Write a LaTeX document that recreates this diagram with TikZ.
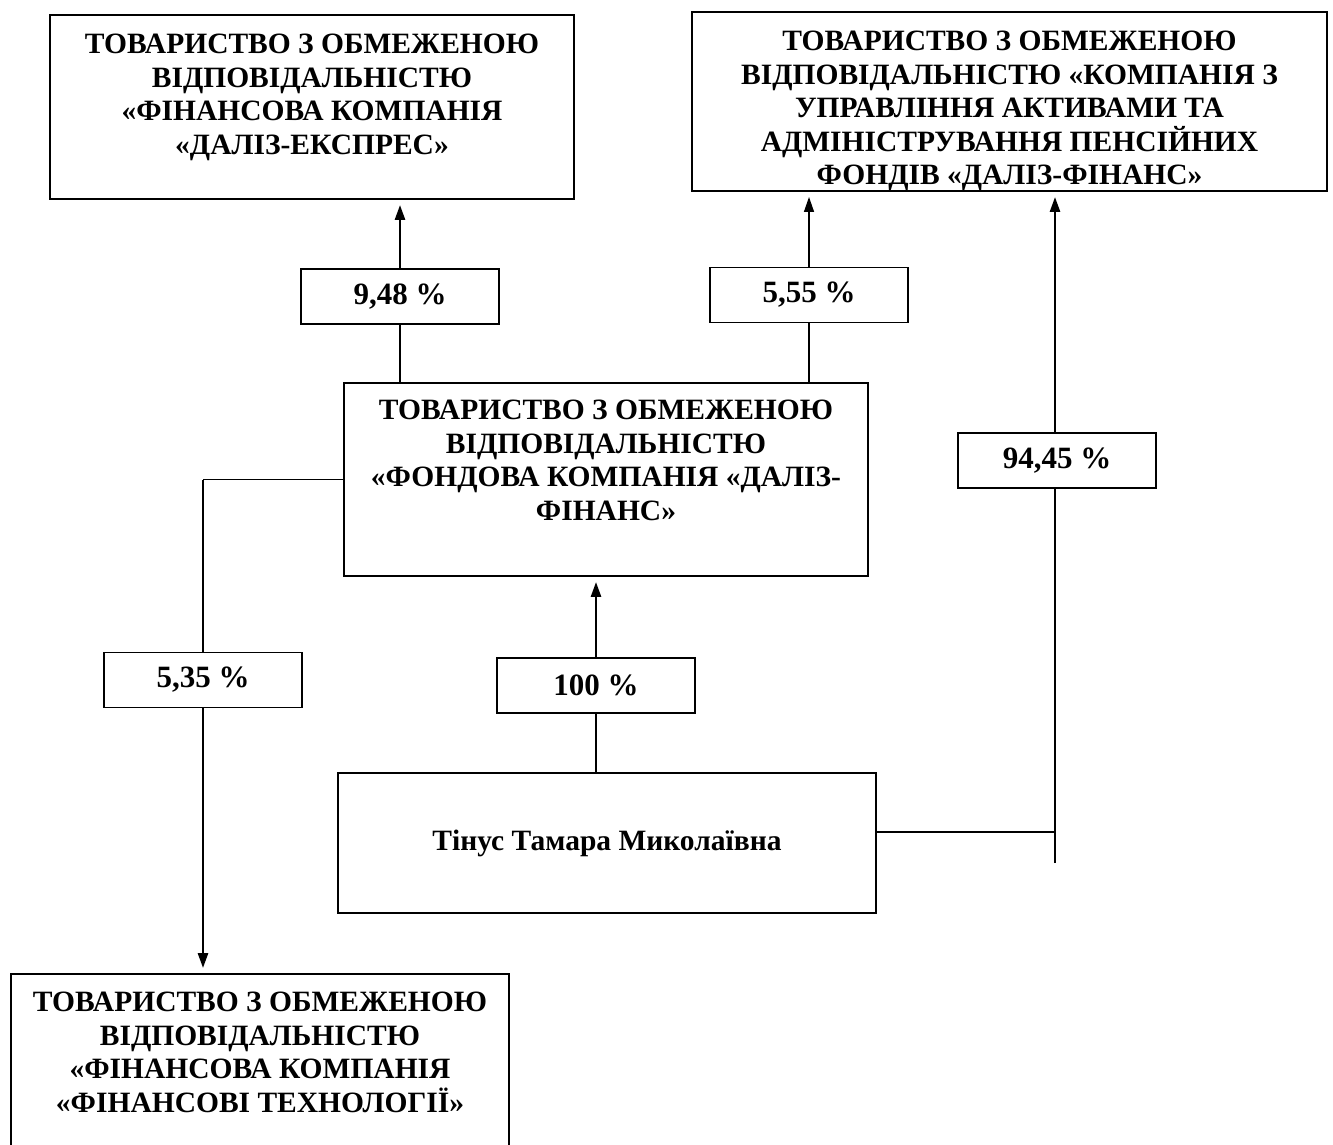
\documentclass[tikz,border=0pt]{standalone}
\usepackage{fontspec}
\setmainfont{Liberation Serif}
\usetikzlibrary{arrows.meta,calc}
\begin{document}
\begin{tikzpicture}[x=1pt,y=-1pt,
  orgbox/.style={draw, line width=1.9pt, inner sep=0pt},
  txt/.style={align=center, inner sep=0pt, anchor=north, font=\bfseries\fontsize{29.5}{33.5}\selectfont},
  pct/.style={draw, fill=white, line width=1.7pt, inner sep=0pt, minimum width=198pt, minimum height=55pt, font=\bfseries\fontsize{31}{34}\selectfont},
  thickln/.style={line width=2.6pt},
  thinln/.style={line width=1.3pt},
  arr/.style={-{Triangle[width=10pt,length=15pt]}, shorten >=5pt}
]
\useasboundingbox (0,0) rectangle (1333,1144);
\clip (0,0) rectangle (1333,1144);
\fill[white] (0,0) rectangle (1333,1144);

% main boxes
\node[orgbox, minimum width=524pt, minimum height=184pt] (A) at (312,107) {};
\node[txt] (At) at (312,34) {ТОВАРИСТВО З ОБМЕЖЕНОЮ\\ВІДПОВІДАЛЬНІСТЮ\\«ФІНАНСОВА КОМПАНІЯ\\«ДАЛІЗ-ЕКСПРЕС»};

\node[orgbox, minimum width=635pt, minimum height=179pt] (B) at (1009.5,101.5) {};
\node[txt] (Bt) at (1009.5,31) {ТОВАРИСТВО З ОБМЕЖЕНОЮ\\ВІДПОВІДАЛЬНІСТЮ «КОМПАНІЯ З\\УПРАВЛІННЯ АКТИВАМИ ТА\\АДМІНІСТРУВАННЯ ПЕНСІЙНИХ\\ФОНДІВ «ДАЛІЗ-ФІНАНС»};

\node[orgbox, minimum width=524pt, minimum height=193pt] (C) at (606,479.5) {};
\node[txt] (Ct) at (606,400) {ТОВАРИСТВО З ОБМЕЖЕНОЮ\\ВІДПОВІДАЛЬНІСТЮ\\«ФОНДОВА КОМПАНІЯ «ДАЛІЗ-\\ФІНАНС»};

\node[orgbox, minimum width=538pt, minimum height=140pt, font=\bfseries\fontsize{29.5}{33.5}\selectfont] (D) at (607,843) {Тінус Тамара Миколаївна};

\node[orgbox, minimum width=498pt, minimum height=190pt] (E) at (260,1069) {};
\node[txt] (Et) at (260,992) {ТОВАРИСТВО З ОБМЕЖЕНОЮ\\ВІДПОВІДАЛЬНІСТЮ\\«ФІНАНСОВА КОМПАНІЯ\\«ФІНАНСОВІ ТЕХНОЛОГІЇ»};

% percentage boxes
\node[pct] (p948) at (400,296.5) {9,48 \%};
\node[pct] (p555) at (809,295) {5,55 \%};
\node[pct] (p9445) at (1057,460.5) {94,45 \%};
\node[pct] (p535) at (203,680) {5,35 \%};
\node[pct] (p100) at (596,685.5) {100 \%};

% connectors
\draw[thickln, arr] (p948.north) -- (p948.north |- A.south);
\draw[thinln] (p948.south) -- (p948.south |- C.north);

\draw[thinln, arr] (p555.north) -- (p555.north |- B.south);
\draw[thickln] (p555.south) -- (p555.south |- C.north);

\draw[thickln, arr] (p100.north) -- (p100.north |- C.south);
\draw[thinln] (p100.south) -- (p100.south |- D.north);

\coordinate (lc) at (C.west -| p535.north);
\draw[thinln] (C.west) -- (lc);
\draw[thickln] (lc) -- (p535.north);
\draw[thickln, arr] (p535.south) -- (p535.south |- E.north);

\coordinate (jn) at (1055,832);
\coordinate (jb) at (1055,863);
\draw[thinln] (jn -| D.east) -- (jn);
\draw[thickln] (jb) -- (jb |- p9445.south);
\draw[thickln, arr] (p9445.north -| jb) -- (jb |- B.south);
\end{tikzpicture}
\end{document}
